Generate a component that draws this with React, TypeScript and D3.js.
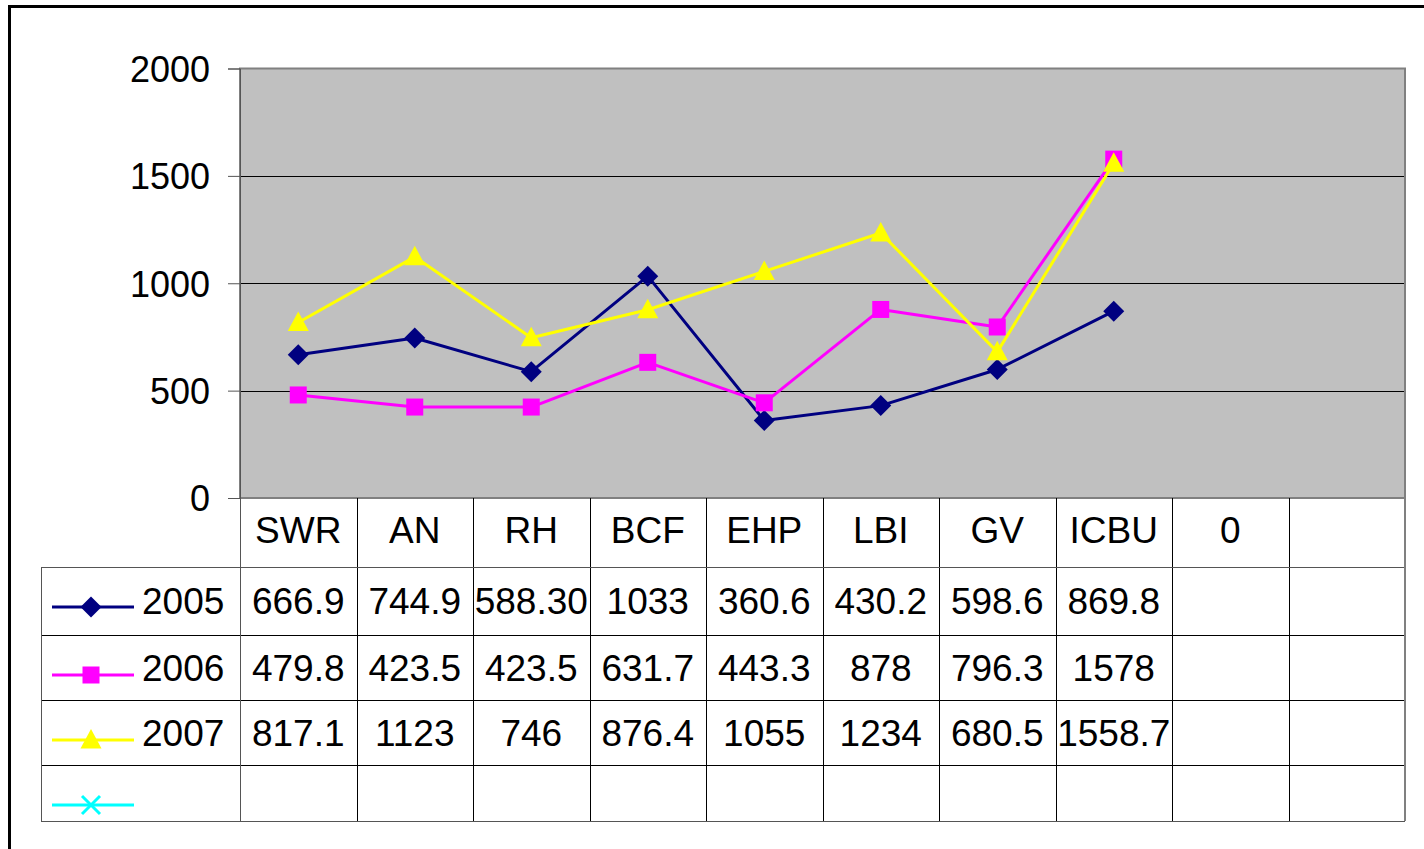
import { useEffect, useRef } from "react";
import * as d3 from "d3";

// categories along the x axis (the last two columns are empty in the sheet)
const categories = ["SWR", "AN", "RH", "BCF", "EHP", "LBI", "GV", "ICBU", "0", ""];

// values as they appear in the data table
const values2005 = ["666.9", "744.9", "588.30", "1033", "360.6", "430.2", "598.6", "869.8"];
const values2006 = ["479.8", "423.5", "423.5", "631.7", "443.3", "878", "796.3", "1578"];
const values2007 = ["817.1", "1123", "746", "876.4", "1055", "1234", "680.5", "1558.7"];

const seriesNames = ["2005", "2006", "2007", ""];
const seriesColors = ["#000080", "#FF00FF", "#FFFF00", "#00FFFF"];
const seriesMarkers = ["diamond", "square", "triangle", "x"];
const seriesValues: string[][] = [values2005, values2006, values2007, []];

const yTicks = [0, 500, 1000, 1500, 2000];

const W = 1424;
const H = 849;
const FONT = "'Liberation Sans', Arial, sans-serif";
const FS = 37;

function drawMarker(
  g: d3.Selection<SVGGElement, unknown, null, undefined>,
  kind: string,
  cx: number,
  cy: number,
  color: string
) {
  if (kind === "diamond") {
    const r = 10.5;
    g.append("path")
      .attr("d", `M${cx},${cy - r}L${cx + r},${cy}L${cx},${cy + r}L${cx - r},${cy}Z`)
      .attr("fill", color);
  } else if (kind === "square") {
    const s = 17;
    g.append("rect")
      .attr("x", cx - s / 2)
      .attr("y", cy - s / 2)
      .attr("width", s)
      .attr("height", s)
      .attr("fill", color);
  } else if (kind === "triangle") {
    g.append("path")
      .attr("d", `M${cx},${cy - 11}L${cx + 10.5},${cy + 8.5}L${cx - 10.5},${cy + 8.5}Z`)
      .attr("fill", color);
  } else if (kind === "x") {
    const r = 9;
    g.append("path")
      .attr("d", `M${cx - r},${cy - r}L${cx + r},${cy + r}M${cx - r},${cy + r}L${cx + r},${cy - r}`)
      .attr("stroke", color)
      .attr("stroke-width", 3)
      .attr("fill", "none");
  }
}

export default function App() {
  const svgRef = useRef<SVGSVGElement | null>(null);

  useEffect(() => {
    document.body.style.margin = "0";
    const svgEl = svgRef.current;
    if (!svgEl) return;
    const svg = d3.select(svgEl);
    svg.selectAll("*").remove();

    const plot = { left: 240, right: 1405, top: 68.5, bottom: 498 };
    const tableLeft = 41;
    const rowLines = [567, 635, 700, 765, 821];

    const x = d3.scaleBand<string>().domain(categories).range([plot.left, plot.right]).padding(0);
    const y = d3.scaleLinear().domain([0, 2000]).range([plot.bottom, plot.top]);
    const cx = (i: number) => (x(categories[i]) ?? 0) + x.bandwidth() / 2;

    // outer chart frame (cut off at right and bottom)
    svg.append("path")
      .attr("d", `M9.5,${H + 5}V6.5H${W + 5}`)
      .attr("fill", "none")
      .attr("stroke", "#000")
      .attr("stroke-width", 3);

    // plot area
    svg.append("rect")
      .attr("x", plot.left)
      .attr("y", plot.top)
      .attr("width", plot.right - plot.left)
      .attr("height", plot.bottom - plot.top)
      .attr("fill", "#C0C0C0");

    // gridlines
    svg.append("g")
      .selectAll("line")
      .data(yTicks.filter((t) => t > 0 && t < 2000))
      .join("line")
      .attr("x1", plot.left)
      .attr("x2", plot.right)
      .attr("y1", (d) => Math.round(y(d)) + 0.5)
      .attr("y2", (d) => Math.round(y(d)) + 0.5)
      .attr("stroke", "#000")
      .attr("stroke-width", 1);

    svg.append("rect")
      .attr("x", plot.left)
      .attr("y", plot.top)
      .attr("width", plot.right - plot.left)
      .attr("height", plot.bottom - plot.top)
      .attr("fill", "none")
      .attr("stroke", "#808080")
      .attr("stroke-width", 2);

    // y axis
    const axis = svg.append("g").attr("transform", `translate(${plot.left},0)`);
    axis.call(
      d3.axisLeft(y).tickValues(yTicks).tickFormat(d3.format("d")).tickSize(12).tickPadding(18)
    );
    axis.select(".domain").attr("stroke", "#555").attr("stroke-width", 1);
    axis.selectAll(".tick line").attr("stroke", "#555");
    axis.selectAll(".tick text")
      .attr("font-family", FONT)
      .attr("font-size", 36)
      .attr("fill", "#000")
      .attr("dy", "0.36em");

    // data table grid
    const tg = svg.append("g");
    categories.forEach((c, i) => {
      if (i === 0) return;
      const xx = Math.round(x(c) ?? 0) + 0.5;
      tg.append("line")
        .attr("x1", xx).attr("x2", xx)
        .attr("y1", plot.bottom).attr("y2", rowLines[rowLines.length - 1])
        .attr("stroke", "#000").attr("stroke-width", 1);
    });
    rowLines.forEach((ry, i) => {
      tg.append("line")
        .attr("x1", tableLeft).attr("x2", plot.right)
        .attr("y1", ry + 0.5).attr("y2", ry + 0.5)
        .attr("stroke", i === 0 || i === rowLines.length - 1 ? "#555" : "#000")
        .attr("stroke-width", 1);
    });
    tg.append("line")
      .attr("x1", tableLeft + 0.5).attr("x2", tableLeft + 0.5)
      .attr("y1", rowLines[0]).attr("y2", rowLines[rowLines.length - 1])
      .attr("stroke", "#555");
    tg.append("line")
      .attr("x1", plot.left + 0.5).attr("x2", plot.left + 0.5)
      .attr("y1", plot.bottom).attr("y2", rowLines[rowLines.length - 1])
      .attr("stroke", "#555");
    tg.append("line")
      .attr("x1", plot.right).attr("x2", plot.right)
      .attr("y1", plot.bottom).attr("y2", rowLines[rowLines.length - 1])
      .attr("stroke", "#808080").attr("stroke-width", 2);

    // category header row
    svg.append("g")
      .selectAll("text")
      .data(categories)
      .join("text")
      .attr("x", (_, i) => cx(i))
      .attr("y", (plot.bottom + rowLines[0]) / 2 - 3)
      .attr("dy", "0.36em")
      .attr("text-anchor", "middle")
      .attr("font-family", FONT)
      .attr("font-size", FS)
      .text((d) => d);

    // series rows of the table, with legend keys
    seriesNames.forEach((name, si) => {
      const top = rowLines[si];
      const bottom = rowLines[si + 1];
      const mid = (top + bottom) / 2;
      const color = seriesColors[si];
      const key = svg.append("g");
      const ky = top + 40;
      key.append("line")
        .attr("x1", 52).attr("x2", 134)
        .attr("y1", ky).attr("y2", ky)
        .attr("stroke", color).attr("stroke-width", 3);
      drawMarker(key, seriesMarkers[si], 91, ky, color);
      key.append("text")
        .attr("x", 142)
        .attr("y", mid)
        .attr("dy", "0.36em")
        .attr("font-family", FONT)
        .attr("font-size", FS)
        .text(name);

      svg.append("g")
        .selectAll("text")
        .data(seriesValues[si])
        .join("text")
        .attr("x", (_, i) => cx(i))
        .attr("y", mid)
        .attr("dy", "0.36em")
        .attr("text-anchor", "middle")
        .attr("font-family", FONT)
        .attr("font-size", FS)
        .text((d) => d);
    });

    // lines and markers
    const line = d3
      .line<string>()
      .x((_, i) => cx(i))
      .y((d) => y(+d));

    seriesValues.forEach((vals, si) => {
      if (vals.length === 0) return;
      const g = svg.append("g");
      g.append("path")
        .datum(vals)
        .attr("d", line)
        .attr("fill", "none")
        .attr("stroke", seriesColors[si])
        .attr("stroke-width", 3)
        .attr("stroke-linejoin", "round");
      vals.forEach((v, i) => drawMarker(g, seriesMarkers[si], cx(i), y(+v), seriesColors[si]));
    });
  }, []);

  return <svg ref={svgRef} width={W} height={H} style={{ display: "block", background: "#fff" }} />;
}
